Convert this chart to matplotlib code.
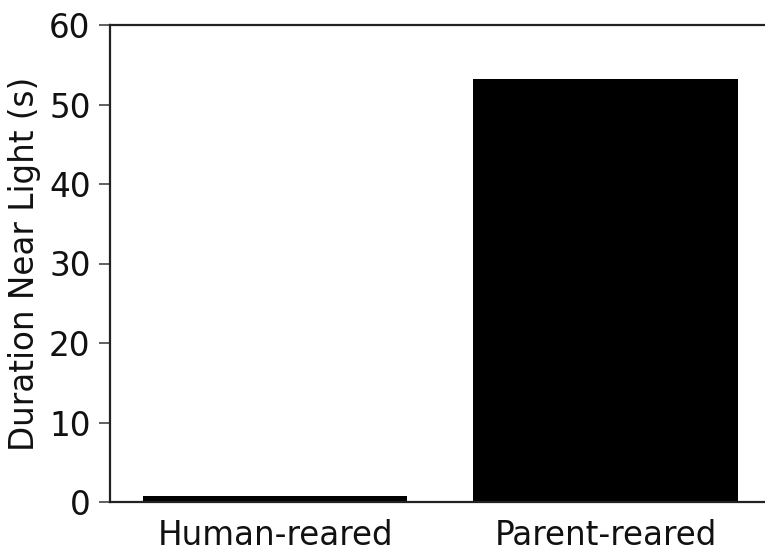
import matplotlib
matplotlib.use("Agg")
import matplotlib.pyplot as plt

groups = ["Human-reared", "Parent-reared"]
durations = [0.8, 53.2]
yticks = [0, 10, 20, 30, 40, 50, 60]

W, H = 765, 551
fig = plt.figure(figsize=(W / 100, H / 100), dpi=100)
# axes extend past the right edge of the canvas
left, right, top, bottom = 110, 770.6, 25, 502
ax = fig.add_axes([left / W, 1 - bottom / H, (right - left) / W, (bottom - top) / H])

ax.bar(range(len(groups)), durations, width=0.8, color="black", edgecolor="none")
ax.set_xlim(-0.5, 1.5)
ax.set_ylim(0, 60)
ax.set_yticks(yticks)
ax.set_xticks(range(len(groups)))
ax.set_xticklabels(groups)
ax.set_ylabel("Duration Near Light (s)", fontsize=23.5, color="#111111", labelpad=6)

for s in ax.spines.values():
    s.set_linewidth(1.6)
    s.set_color("#222222")
ax.tick_params(axis="y", which="both", direction="out", length=8, width=1.2,
               labelsize=23.5, labelcolor="#111111", color="#444444", right=False, pad=6)
ax.tick_params(axis="x", length=0, labelsize=23.5, labelcolor="#111111", pad=12, top=False)

fig.savefig("out.png", dpi=100)
